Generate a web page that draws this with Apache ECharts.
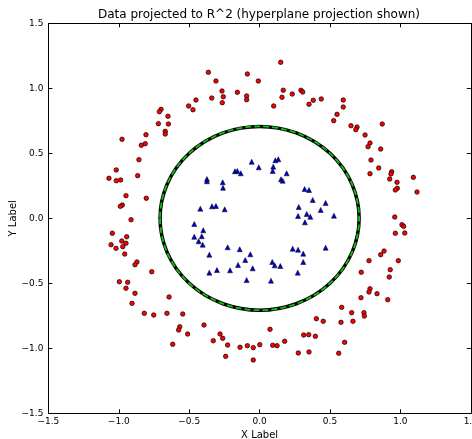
<!DOCTYPE html>
<html>
<head>
<meta charset="utf-8">
<script src="https://cdn.jsdelivr.net/npm/echarts@6/dist/echarts.min.js"></script>
<style>
  html, body { margin: 0; padding: 0; background: #fff; }
  #chart { width: 472px; height: 439px; }
</style>
</head>
<body>
<div id="chart"></div>
<script>
// outer ring (red circles)
const outerPts = [
  [-0.364, 1.123], [-0.310, 1.056], [-0.267, 0.979], [-0.258, 0.935], [-0.265, 0.889],
  [-0.340, 0.925], [-0.158, 0.969], [-0.452, 0.910], [-0.504, 0.864], [-0.473, 0.835],
  [-0.700, 0.838], [-0.712, 0.820], [-0.651, 0.785], [-0.648, 0.725], [-0.719, 0.728],
  [-0.670, 0.669], [-0.670, 0.648], [-0.807, 0.643], [-0.812, 0.574], [-0.840, 0.562],
  [-0.977, 0.608], [-0.857, 0.451], [-1.018, 0.372], [-0.866, 0.328], [-1.070, 0.308],
  [-1.018, 0.289], [-0.987, 0.295], [-0.949, 0.174], [-0.805, 0.154], [-0.975, 0.102],
  [-0.989, 0.092], [-0.913, -0.011], [-1.046, -0.115], [-0.944, -0.142],
  [0.150, 1.200], [-0.087, 1.110], [-0.009, 1.056], [0.168, 0.985], [0.159, 0.931],
  [0.232, 0.956], [0.294, 0.985], [0.306, 0.972], [-0.092, 0.941], [-0.092, 0.912],
  [0.100, 0.864], [0.381, 0.908], [0.438, 0.918], [0.351, 0.877], [0.594, 0.910],
  [0.594, 0.856], [0.550, 0.800], [0.526, 0.751], [0.649, 0.712], [0.692, 0.702],
  [0.683, 0.682], [0.871, 0.725], [0.749, 0.641], [0.784, 0.579], [0.770, 0.551],
  [0.860, 0.533], [0.791, 0.448], [0.846, 0.387], [0.784, 0.343], [0.938, 0.358],
  [0.933, 0.341], [0.924, 0.302], [0.976, 0.277], [0.978, 0.231], [0.964, 0.218],
  [1.092, 0.315], [1.118, 0.202], [0.960, 0.010], [1.011, -0.049], [1.023, -0.062],
  [0.964, -0.115], [1.031, -0.113],
  [-1.055, -0.203], [-1.020, -0.231], [-0.979, -0.175], [-0.949, -0.192], [-0.972, -0.218],
  [-0.958, -0.275], [-0.871, -0.336], [-0.885, -0.357], [-0.766, -0.411], [-0.996, -0.488],
  [-0.937, -0.492], [-0.949, -0.538], [-0.885, -0.577], [-0.906, -0.654], [-0.819, -0.731],
  [-0.752, -0.744], [-0.643, -0.605], [-0.658, -0.731], [-0.546, -0.736], [-0.567, -0.834],
  [-0.575, -0.859], [-0.617, -0.969], [-0.511, -0.890], [-0.395, -0.821], [-0.329, -0.942],
  [-0.281, -0.890], [-0.262, -0.923], [-0.227, -0.975], [-0.241, -1.062], [-0.139, -0.992],
  [0.884, -0.252], [0.860, -0.280], [0.777, -0.326], [0.985, -0.326], [0.928, -0.395],
  [0.921, -0.452], [0.722, -0.415], [0.784, -0.542], [0.777, -0.567], [0.834, -0.580],
  [0.910, -0.626], [0.720, -0.611], [0.583, -0.685], [0.654, -0.726], [0.741, -0.726],
  [0.744, -0.752], [0.578, -0.800], [0.663, -0.792], [0.403, -0.772], [0.452, -0.792],
  [0.074, -0.854], [0.313, -0.898], [0.349, -0.895], [0.396, -0.908], [0.178, -0.946],
  [0.093, -0.977], [0.124, -0.980], [0.001, -0.972], [-0.087, -0.980], [-0.045, -0.995],
  [-0.045, -1.090], [0.275, -1.036], [0.351, -1.028], [0.562, -1.038], [0.604, -0.954]
];

// inner ring (blue triangles)
const innerPts = [
  [-0.056, 0.435], [-0.006, 0.392], [0.112, 0.446], [0.133, 0.454], [0.097, 0.397],
  [0.093, 0.364], [0.192, 0.346], [-0.175, 0.362], [-0.158, 0.364], [-0.134, 0.346],
  [-0.374, 0.302], [-0.374, 0.285], [-0.262, 0.277], [-0.260, 0.235], [0.152, 0.300],
  [0.164, 0.289], [0.320, 0.225], [0.351, 0.218], [0.377, 0.141], [0.469, 0.118],
  [0.278, 0.087], [0.434, 0.064], [0.273, 0.018], [0.335, 0.033], [0.360, 0.012],
  [0.322, -0.031], [0.528, 0.020], [-0.421, 0.074], [-0.338, 0.092], [-0.310, 0.095],
  [-0.248, 0.069], [-0.464, -0.044], [-0.400, -0.092], [-0.464, -0.142], [-0.411, -0.138],
  [-0.433, -0.177], [-0.404, -0.203], [-0.357, -0.280], [-0.227, -0.223], [-0.141, -0.238],
  [-0.066, -0.277], [-0.102, -0.321], [-0.153, -0.359], [-0.049, -0.385], [-0.210, -0.400],
  [-0.303, -0.398], [-0.357, -0.418], [-0.092, -0.475], [0.090, -0.336], [0.107, -0.362],
  [0.147, -0.367], [0.081, -0.480], [0.235, -0.234], [0.273, -0.242], [0.310, -0.272],
  [0.469, -0.226], [0.310, -0.336], [0.271, -0.418]
];

// hyperplane projection: centre x, centre y, radius
const planeCircle = [[0, 0, 0.707]];

const xTicks = [-1.5, -1.0, -0.5, 0.0, 0.5, 1.0, 1.5];
const yTicks = [-1.5, -1.0, -0.5, 0.0, 0.5, 1.0, 1.5];

const font = 'DejaVu Sans';
const fmt = v => (v < 0 ? '\u2212' : '') + Math.abs(v).toFixed(1);

const baseAxis = {
  type: 'value',
  axisLine: { show: true, onZero: false, lineStyle: { color: '#000', width: 1 } },
  axisTick: { show: true, inside: true, length: 4, lineStyle: { color: '#000' } },
  splitLine: { show: false }
};

const chart = echarts.init(document.getElementById('chart'));
chart.setOption({
  backgroundColor: '#fff',
  animation: false,
  title: {
    text: 'Data projected to R^2 (hyperplane projection shown)',
    left: 259, top: 9, padding: 0, textAlign: 'center',
    textStyle: { fontFamily: font, fontSize: 12, fontWeight: 'normal', color: '#000' }
  },
  grid: { left: 48.4, right: 1.2, top: 23.3, bottom: 25.7, outerBoundsMode: 'none', containLabel: false },
  xAxis: [
    Object.assign({}, baseAxis, {
      min: xTicks[0], max: xTicks[xTicks.length - 1], interval: 0.5, position: 'bottom',
      name: 'X Label', nameLocation: 'middle', nameGap: 17, nameMoveOverlap: false,
      nameTextStyle: { fontFamily: font, fontSize: 10, color: '#000' },
      axisLabel: { fontFamily: font, fontSize: 9, color: '#000', margin: 4, formatter: fmt, showMinLabel: true, showMaxLabel: true, hideOverlap: false }
    }),
    Object.assign({}, baseAxis, {
      min: xTicks[0], max: xTicks[xTicks.length - 1], interval: 0.5, position: 'top',
      axisLabel: { show: false }
    })
  ],
  yAxis: [
    Object.assign({}, baseAxis, {
      min: yTicks[0], max: yTicks[yTicks.length - 1], interval: 0.5, position: 'left',
      name: 'Y Label', nameLocation: 'middle', nameGap: 30, nameMoveOverlap: false,
      nameTextStyle: { fontFamily: font, fontSize: 10, color: '#000' },
      axisLabel: { fontFamily: font, fontSize: 9, color: '#000', margin: 5, formatter: fmt, showMinLabel: true, showMaxLabel: true, hideOverlap: false }
    }),
    Object.assign({}, baseAxis, {
      min: yTicks[0], max: yTicks[yTicks.length - 1], interval: 0.5, position: 'right',
      axisLabel: { show: false }
    })
  ],
  series: [
    {
      type: 'custom',
      data: planeCircle,
      silent: true,
      renderItem: function (params, api) {
        const c = api.coord([api.value(0), api.value(1)]);
        const s = api.size([api.value(2), api.value(2)]);
        const rx = s[0], ry = s[1];
        const d = 'M' + (c[0] - rx) + ' ' + c[1] +
          ' A' + rx + ' ' + ry + ' 0 1 0 ' + (c[0] + rx) + ' ' + c[1] +
          ' A' + rx + ' ' + ry + ' 0 1 0 ' + (c[0] - rx) + ' ' + c[1] + ' Z';
        return {
          type: 'group',
          children: [
            { type: 'path', shape: { pathData: d }, style: { fill: 'none', stroke: '#000', lineWidth: 3.5 } },
            { type: 'path', shape: { pathData: d }, style: { fill: 'none', stroke: '#10c010', lineWidth: 1.8, lineDash: [6, 3] } }
          ]
        };
      }
    },
    {
      type: 'scatter',
      data: outerPts,
      symbol: 'circle',
      symbolSize: 4.5,
      itemStyle: { color: '#ff0000', borderColor: '#000', borderWidth: 0.7, opacity: 1 }
    },
    {
      type: 'scatter',
      data: innerPts,
      symbol: 'triangle',
      symbolSize: 5,
      itemStyle: { color: '#0000d0', borderColor: '#000', borderWidth: 0.5, opacity: 1 }
    }
  ]
});
</script>
</body>
</html>
